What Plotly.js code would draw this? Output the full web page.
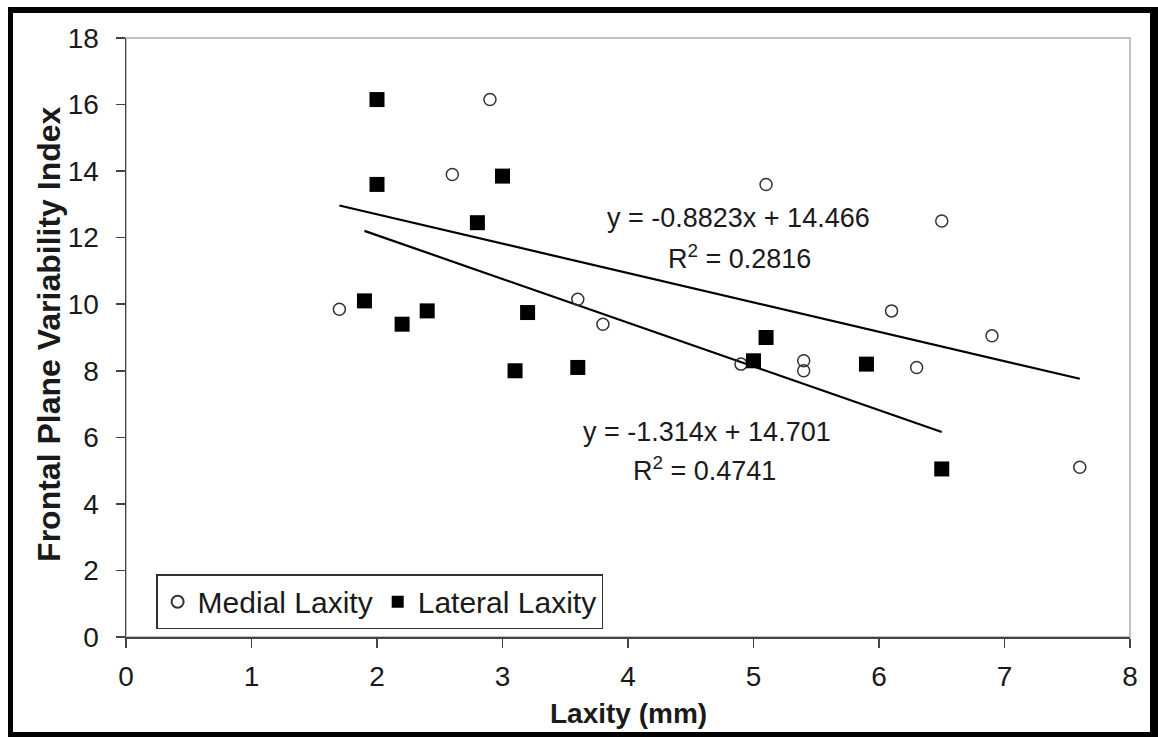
<!DOCTYPE html>
<html>
<head>
<meta charset="utf-8">
<script src="https://cdn.plot.ly/plotly-3.0.1.min.js"></script>
<style>
  html, body { margin: 0; padding: 0; background: #ffffff; }
  #wrap { position: relative; width: 1158px; height: 737px; }
  #chart { position: absolute; left: 0; top: 0; width: 1158px; height: 737px; }
  #frame {
    position: absolute; left: 8px; top: 7px; width: 1150px; height: 730px;
    box-sizing: border-box; border-style: solid; border-color: #000;
    border-width: 6px 8px 5px 5px; pointer-events: none;
  }
</style>
</head>
<body>
<div id="wrap">
  <div id="chart"></div>
  <div id="frame"></div>
</div>
<script>
// Medial laxity (open circles)
const medialX = [1.7, 2.6, 2.9, 3.6, 3.8, 4.9, 5.1, 5.4, 5.4, 6.1, 6.3, 6.5, 6.9, 7.6];
const medialY = [9.85, 13.9, 16.15, 10.15, 9.4, 8.2, 13.6, 8.3, 8.0, 9.8, 8.1, 12.5, 9.05, 5.1];
// Lateral laxity (filled squares)
const lateralX = [1.9, 2.0, 2.0, 2.2, 2.4, 2.8, 3.0, 3.1, 3.2, 3.6, 5.0, 5.1, 5.9, 6.5];
const lateralY = [10.1, 16.15, 13.6, 9.4, 9.8, 12.45, 13.85, 8.0, 9.75, 8.1, 8.3, 9.0, 8.2, 5.05];

// Trendline equations shown on the chart
const medialSlope = -0.8823, medialIntercept = 14.466;
const lateralSlope = -1.314, lateralIntercept = 14.701;
const medialEq = 'y = -0.8823x + 14.466';
const medialR2 = 'R<sup>2</sup> = 0.2816';
const lateralEq = 'y = -1.314x + 14.701';
const lateralR2 = 'R<sup>2</sup> = 0.4741';

const xTicks = [0, 1, 2, 3, 4, 5, 6, 7, 8];
const yTicks = [0, 2, 4, 6, 8, 10, 12, 14, 16, 18];
const xTitle = 'Laxity (mm)';
const yTitle = 'Frontal Plane Variability Index';

function fitLine(xs, m, b) {
  const lo = Math.min(...xs), hi = Math.max(...xs);
  return { x: [lo, hi], y: [m * lo + b, m * hi + b] };
}
const mFit = fitLine(medialX, medialSlope, medialIntercept);
const lFit = fitLine(lateralX, lateralSlope, lateralIntercept);

const FONT = 'Liberation Sans, Arial, sans-serif';
const TXT = '#1a1a1a';

const traces = [
  { x: mFit.x, y: mFit.y, mode: 'lines', line: { color: '#000', width: 2.2 }, showlegend: false, hoverinfo: 'skip' },
  { x: lFit.x, y: lFit.y, mode: 'lines', line: { color: '#000', width: 2.2 }, showlegend: false, hoverinfo: 'skip' },
  { x: medialX, y: medialY, mode: 'markers', name: 'Medial Laxity',
    marker: { symbol: 'circle-open', size: 12, color: '#333', line: { color: '#333', width: 1.5 } } },
  { x: lateralX, y: lateralY, mode: 'markers', name: 'Lateral Laxity',
    marker: { symbol: 'square', size: 15, color: '#000' } }
];

const eqFont = { family: FONT, size: 27, color: TXT };

const layout = {
  width: 1158, height: 737,
  margin: { l: 126, r: 28, t: 38, b: 100 },
  paper_bgcolor: '#fff', plot_bgcolor: '#fff',
  font: { family: FONT, color: TXT, size: 28 },
  showlegend: true,
  legend: {
    orientation: 'h', x: 0.03, y: 0.013, xanchor: 'left', yanchor: 'bottom',
    bgcolor: '#fff', bordercolor: '#333', borderwidth: 1.5,
    font: { family: FONT, size: 30, color: TXT }, itemgap: 4, traceorder: 'normal',
    itemsizing: 'constant'
  },
  xaxis: {
    range: [0, 8], tickvals: xTicks, ticktext: xTicks.map(String),
    showgrid: false, zeroline: false, showline: true, linecolor: '#444', linewidth: 1.5,
    ticks: 'outside', ticklen: 9, tickwidth: 1.5, tickcolor: '#444',
    tickfont: { family: FONT, size: 28, color: TXT }, ticklabelstandoff: 5,
    fixedrange: true
  },
  yaxis: {
    range: [0, 18], tickvals: yTicks, ticktext: yTicks.map(String),
    showgrid: false, zeroline: false, showline: true, linecolor: '#444', linewidth: 1.5,
    ticks: 'outside', ticklen: 9, tickwidth: 1.5, tickcolor: '#444',
    tickfont: { family: FONT, size: 28, color: TXT }, ticklabelstandoff: 11,
    fixedrange: true
  },
  shapes: [
    { type: 'rect', xref: 'paper', yref: 'paper', x0: 0, x1: 1, y0: 0, y1: 1,
      line: { color: '#c0c0c0', width: 2 }, layer: 'below' }
  ],
  annotations: [
    { x: 4.88, y: 12.6, xref: 'x', yref: 'y', text: medialEq, showarrow: false, xanchor: 'center', yanchor: 'middle', font: eqFont },
    { x: 4.89, y: 11.42, xref: 'x', yref: 'y', text: medialR2, showarrow: false, xanchor: 'center', yanchor: 'middle', font: eqFont },
    { x: 4.63, y: 6.16, xref: 'x', yref: 'y', text: lateralEq, showarrow: false, xanchor: 'center', yanchor: 'middle', font: eqFont },
    { x: 4.61, y: 5.04, xref: 'x', yref: 'y', text: lateralR2, showarrow: false, xanchor: 'center', yanchor: 'middle', font: eqFont },
    { x: 0.5, y: -0.127, xref: 'paper', yref: 'paper', text: '<b>' + xTitle + '</b>', showarrow: false,
      xanchor: 'center', yanchor: 'middle', font: { family: FONT, size: 28, color: TXT } },
    { x: -0.0767, y: 0.506, xref: 'paper', yref: 'paper', text: '<b>' + yTitle + '</b>', showarrow: false,
      textangle: -90, xanchor: 'center', yanchor: 'middle', font: { family: FONT, size: 32, color: TXT } }
  ]
};

Plotly.newPlot('chart', traces, layout, { displayModeBar: false, staticPlot: true });
</script>
</body>
</html>
